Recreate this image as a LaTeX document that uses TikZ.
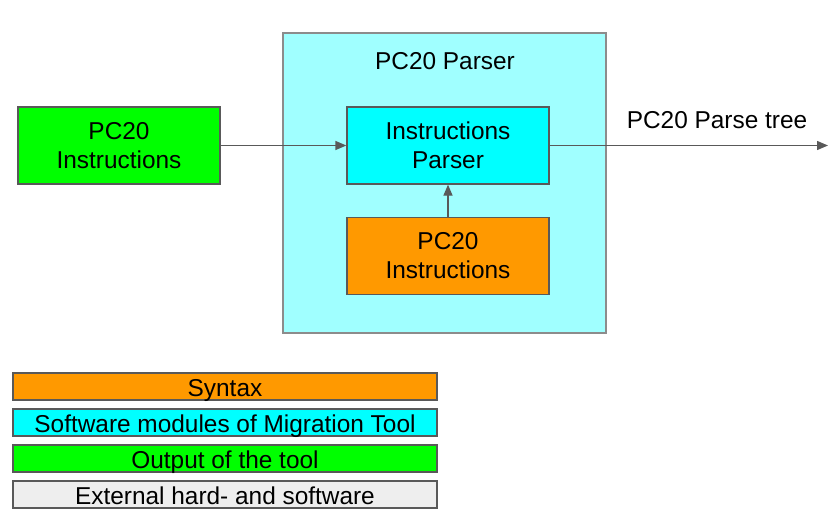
\documentclass[tikz,border=0pt]{standalone}
\usepackage{fontspec}
\setmainfont{Liberation Sans}
\usetikzlibrary{arrows.meta}
\definecolor{bordergray}{HTML}{595959}
\definecolor{contgray}{HTML}{8C8C8C}
\definecolor{outgreen}{HTML}{00FF00}
\definecolor{modcyan}{HTML}{00FFFF}
\definecolor{lightcyan}{HTML}{A0FFFF}
\definecolor{synorange}{HTML}{FF9900}
\definecolor{extgray}{HTML}{EEEEEE}
\tikzset{
  base/.style={draw=bordergray, line width=1.3pt, inner sep=0pt, align=center,
    font=\fontsize{24.4}{29}\selectfont},
  bigbox/.style={base, minimum width=202pt, minimum height=77pt},
  legendbox/.style={base, minimum width=424pt, minimum height=27pt, text height=19pt, text depth=0pt},
  container/.style={draw=contgray, line width=1.8pt, fill=lightcyan, minimum width=323pt, minimum height=300pt, inner sep=0pt},
  conn/.style={draw=bordergray, line width=1.3pt, -{Triangle[length=11pt,width=9pt]}},
  lbl/.style={font=\fontsize{24.4}{29}\selectfont, inner sep=0pt}
}
\begin{document}
\begin{tikzpicture}[x=1pt,y=-1pt]
\useasboundingbox (0,0) rectangle (833,519);
\node[container] (parser) at (444.5,183) {};
\node[lbl] (ptitle) at (445,61) {PC20 Parser};
\node[bigbox, fill=outgreen] (input) at (119,145.5) {PC20\\Instructions};
\node[bigbox, fill=modcyan] (iparser) at (448,145.5) {Instructions\\Parser};
\node[bigbox, fill=synorange] (syntax) at (448,256) {PC20\\Instructions};
\coordinate (out) at (828,145.5);
\node[lbl] (outlbl) at (717,120) {PC20 Parse tree};
\draw[conn] (input) -- (iparser);
\draw[conn] (syntax) -- (iparser);
\draw[conn] (iparser) -- (out);
\node[legendbox, fill=synorange] (l1) at (225,386.5) {Syntax};
\node[legendbox, fill=modcyan] (l2) at (225,422.5) {Software modules of Migration Tool};
\node[legendbox, fill=outgreen] (l3) at (225,458.5) {Output of the tool};
\node[legendbox, fill=extgray] (l4) at (225,494.5) {External hard- and software};
\end{tikzpicture}
\end{document}
